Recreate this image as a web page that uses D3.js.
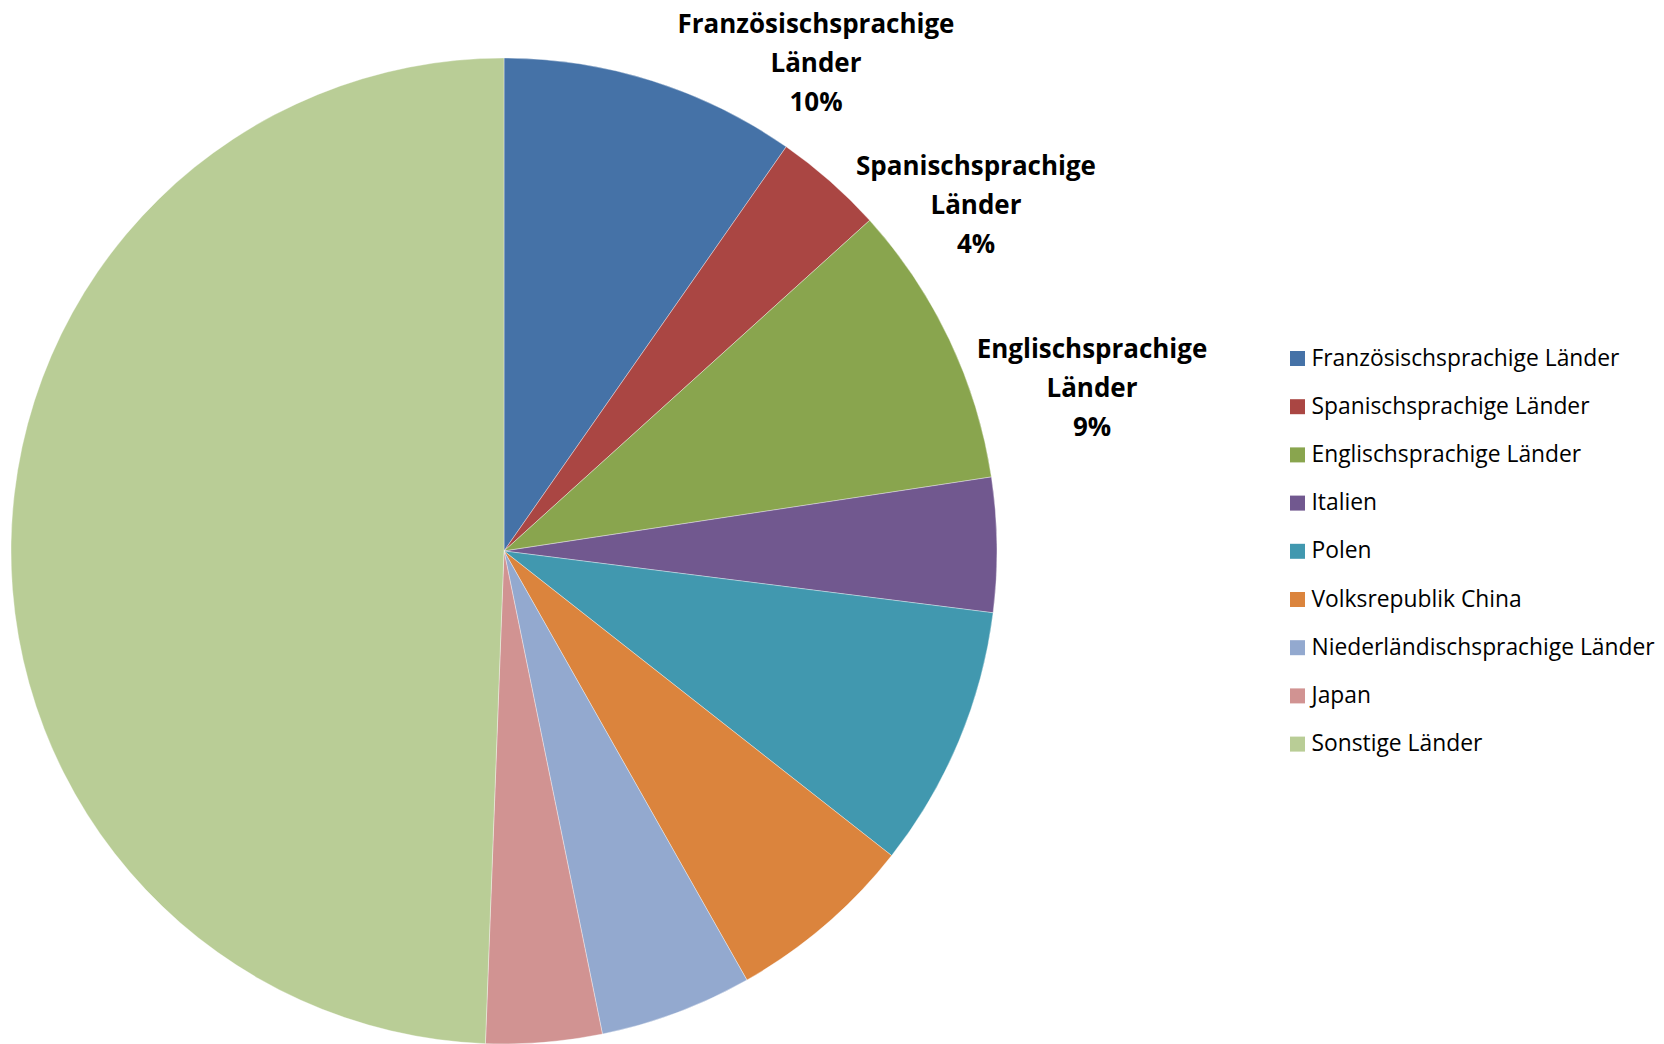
<!DOCTYPE html>
<html><head><meta charset="utf-8">
<script src="https://cdn.jsdelivr.net/npm/d3@7"></script>
<style>body{margin:0;background:#fff;}svg{display:block;}</style>
</head><body>
<svg id="chart" width="1664" height="1044"></svg>
<script>
const categories = ["Französischsprachige Länder","Spanischsprachige Länder","Englischsprachige Länder","Italien","Polen","Volksrepublik China","Niederländischsprachige Länder","Japan","Sonstige Länder"];
const values = [9.7, 3.6, 9.3, 4.4, 8.6, 6.2, 5.0, 3.8, 49.4];
const colors = ["#4572A7","#AA4643","#89A54E","#71588F","#4198AF","#DB843D","#93A9CF","#D19392","#B9CD96"];
const labelledIdx = [0,1,2];
const labelLayout = [{x:816,y:33},{x:976,y:175},{x:1092,y:358}];

const svg = d3.select("#chart");
const cx = 504, cy = 551, R = 493;
const total = d3.sum(values);
const pie = d3.pie().sort(null).value(d=>d)(values);
const arc = d3.arc().innerRadius(0).outerRadius(R);
const g = svg.append("g").attr("transform",`translate(${cx},${cy})`);
g.selectAll("path").data(pie).join("path")
  .attr("d",arc).attr("fill",(d,i)=>colors[i])
  .attr("stroke","#ffffff").attr("stroke-width",0.6).attr("stroke-opacity",0.6);

const font = "'Open Sans', sans-serif";
function fitSize(text, weight, targetW){
  const t = svg.append("text").attr("font-family",font).attr("font-weight",weight).attr("font-size",100).text(text);
  const w = t.node().getComputedTextLength(); t.remove();
  return 100*targetW/w;
}
const labelSize = fitSize("Französischsprachige","bold",277);
const legendSize = fitSize("Französischsprachige Länder","normal",308);

labelledIdx.forEach((idx,k)=>{
  const name = categories[idx].split(" ");
  const pct = d3.format(".0%")(values[idx]/total);
  const lines = [name[0], name[1], pct];
  const t = svg.append("text").attr("font-family",font).attr("font-weight","bold")
    .attr("font-size",labelSize).attr("text-anchor","middle").attr("fill","#000");
  lines.forEach((l,j)=>t.append("tspan").attr("x",labelLayout[k].x).attr("y",labelLayout[k].y+j*39).text(l));
});

const leg = svg.append("g");
const rowY = d3.scalePoint().domain(categories).range([351, 351+48.2*8]);
categories.forEach((c,i)=>{
  const y = rowY(c);
  leg.append("rect").attr("x",1290).attr("y",y).attr("width",15).attr("height",15).attr("fill",colors[i]);
  leg.append("text").attr("x",1311.5).attr("y",y+14.5).attr("font-family",font)
    .attr("font-size",legendSize).attr("fill","#000").text(c);
});
</script>
</body></html>
